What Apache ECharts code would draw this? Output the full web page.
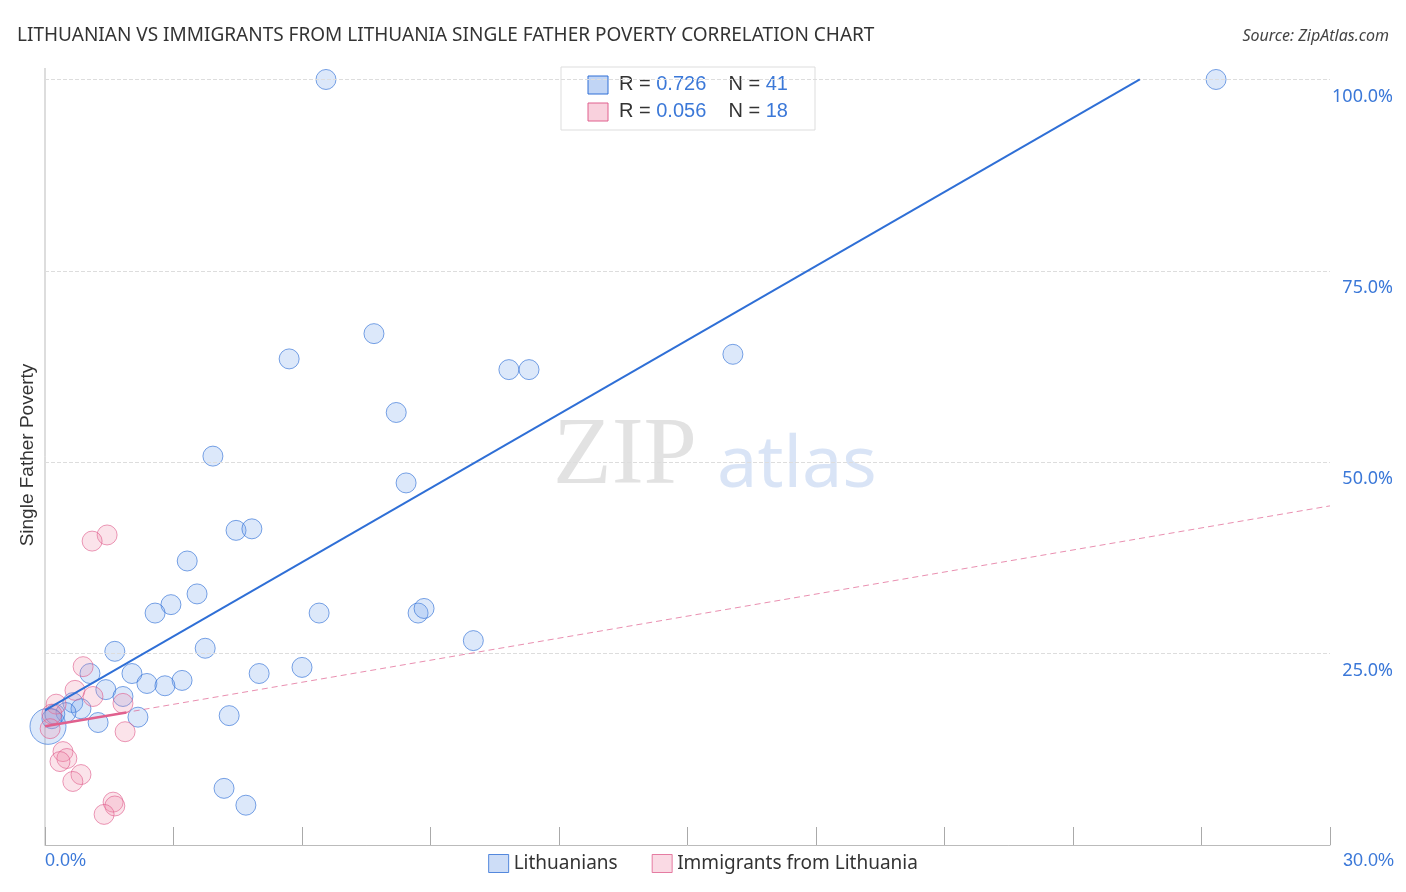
<!DOCTYPE html>
<html><head><meta charset="utf-8">
<script src="https://cdn.jsdelivr.net/npm/echarts@6/dist/echarts.min.js"></script>
<style>html,body{margin:0;padding:0;background:#fff}#c{width:1406px;height:892px}</style>
</head><body><div id="c"></div>
<script>
const lithuanians = [[6.56,100],[27.34,100],[7.68,66.8],[5.70,63.5],[16.06,64.1],[10.83,62.1],[11.30,62.1],[8.20,56.5],[3.92,50.8],[8.43,47.3],[4.46,41.1],[4.83,41.3],[3.32,37.1],[3.55,32.8],[2.94,31.4],[2.57,30.3],[6.40,30.3],[8.71,30.3],[8.85,30.9],[10.0,26.7],[3.74,25.7],[1.63,25.3],[6.0,23.2],[1.05,22.4],[2.03,22.4],[5.0,22.4],[2.38,21.1],[3.2,21.5],[2.8,20.8],[1.42,20.3],[1.82,19.4],[0.65,18.6],[0.84,17.8],[0.49,17.3],[0.23,17.1],[0.16,16.5],[2.17,16.7],[4.3,16.9],[1.24,16.0],[4.18,7.4],[4.69,5.2]];
const bigPoint = [[0.07,15.5]];
const immigrants = [[1.45,40.5],[1.10,39.7],[0.89,23.3],[0.70,20.2],[1.12,19.4],[1.82,18.5],[0.26,18.4],[0.16,17.1],[0.12,15.2],[0.42,12.2],[0.51,11.3],[0.35,10.9],[0.84,9.2],[0.65,8.3],[1.87,14.8],[1.59,5.6],[1.63,5.1],[1.38,4.0]];
const blueTrend = [[0,17.6],[25.56,100]];
const pinkSolid = [[0,15.5],[1.9,17.3]];
const pinkDashed = [[0,15.5],[30,44.3]];
const yTicks = [25,50,75,100];

const blue='#2f6fd6', pink='#e0608e';
const chart = echarts.init(document.getElementById('c'));
chart.setOption({
  animation:false,
  textStyle:{fontFamily:'Noto Sans'},
  title:[{text:'LITHUANIAN VS IMMIGRANTS FROM LITHUANIA SINGLE FATHER POVERTY CORRELATION CHART',left:12,top:21,textStyle:{fontSize:19,fontWeight:'normal',color:'#333',fontFamily:'Noto Sans'}},
         {text:'Source: ZipAtlas.com',right:12,top:23,textStyle:{fontSize:16,fontWeight:'normal',fontStyle:'italic',color:'#444'}}],
  grid:{left:45,right:76,top:68,bottom:47},
  xAxis:{type:'value',min:0,max:30,interval:3,
    axisLine:{show:true,lineStyle:{color:'#bbb'}},
    axisTick:{show:true,inside:true,length:18,lineStyle:{color:'#aaa'}},
    axisLabel:{show:false},splitLine:{show:false}},
  yAxis:{type:'value',min:0,max:101.5,interval:25,position:'right',
    axisLine:{show:false},axisTick:{show:false},
    axisLabel:{color:'#3b78d8',fontSize:18,align:'right',margin:63,verticalAlign:'top',padding:[8,0,0,0],
      formatter:v=>yTicks.includes(v)?v.toFixed(1)+'%':''},
    splitLine:{show:false}},
  graphic:[
    {type:'line',shape:{x1:45,y1:68,x2:45,y2:845},style:{stroke:'#bbb',lineWidth:1}},
    {type:'text',left:45,top:852,style:{text:'0.0%',fill:'#3b78d8',fontSize:18}},
    {type:'text',right:12,top:852,style:{text:'30.0%',fill:'#3b78d8',fontSize:18}},
    {type:'text',rotation:Math.PI/2,style:{text:'Single Father Poverty',fill:'#333',fontSize:19,align:'center',verticalAlign:'middle'},x:28,y:455},
    {type:'text',x:553,y:410,style:{text:'ZIP',fill:'rgba(190,190,190,0.45)',fontSize:96,fontFamily:'Liberation Serif'}},
    {type:'text',x:717,y:430,style:{text:'atlas',fill:'rgba(170,195,235,0.45)',fontSize:72,fontFamily:'Noto Sans'}},
    {type:'rect',shape:{x:561,y:67,width:254,height:63},style:{fill:'#fff',stroke:'#ddd'}},
    {type:'rect',shape:{x:588,y:76,width:20,height:18},style:{fill:'rgba(100,150,230,0.4)',stroke:blue}},
    {type:'rect',shape:{x:588,y:103,width:20,height:18},style:{fill:'rgba(240,140,170,0.4)',stroke:pink}},
    {type:'text',x:619,y:74,style:{rich:{a:{fill:'#333',fontSize:20},b:{fill:'#3b78d8',fontSize:20}},text:'{a|R = }{b|0.726}{a|    N = }{b|41}'}},
    {type:'text',x:619,y:101,style:{rich:{a:{fill:'#333',fontSize:20},b:{fill:'#3b78d8',fontSize:20}},text:'{a|R = }{b|0.056}{a|    N = }{b|18}'}}
  ],
  legend:{bottom:14,left:'center',itemWidth:20,itemHeight:18,itemGap:34,textStyle:{fontSize:19,color:'#333'},
    data:[{name:'Lithuanians',icon:'rect',itemStyle:{color:'rgba(100,150,230,0.4)',borderColor:blue,borderWidth:1}},
          {name:'Immigrants from Lithuania',icon:'rect',itemStyle:{color:'rgba(240,140,170,0.4)',borderColor:pink,borderWidth:1}}]},
  series:[
    {type:'line',data:[],markLine:{silent:true,symbol:'none',label:{show:false},lineStyle:{color:'#ddd',type:'dashed',width:1},data:yTicks.map(v=>({yAxis:v}))}},
    {name:'Lithuanians',type:'scatter',data:lithuanians,symbolSize:20,itemStyle:{color:'rgba(110,160,235,0.3)',borderColor:'rgba(47,111,214,0.8)',borderWidth:1}},
    {name:'Lithuanians',type:'scatter',data:bigPoint,symbolSize:36,itemStyle:{color:'rgba(110,160,235,0.3)',borderColor:'rgba(47,111,214,0.8)',borderWidth:1}},
    {name:'Immigrants from Lithuania',type:'scatter',data:immigrants,symbolSize:20,itemStyle:{color:'rgba(240,140,170,0.3)',borderColor:'rgba(224,96,142,0.8)',borderWidth:1}},
    {type:'line',data:blueTrend,symbol:'none',lineStyle:{color:blue,width:2},z:5},
    {type:'line',data:pinkDashed,symbol:'none',lineStyle:{color:pink,width:1,type:[6,4],opacity:0.7},z:5},
    {type:'line',data:pinkSolid,symbol:'none',lineStyle:{color:pink,width:2.5},z:6}
  ]
});
</script></body></html>
